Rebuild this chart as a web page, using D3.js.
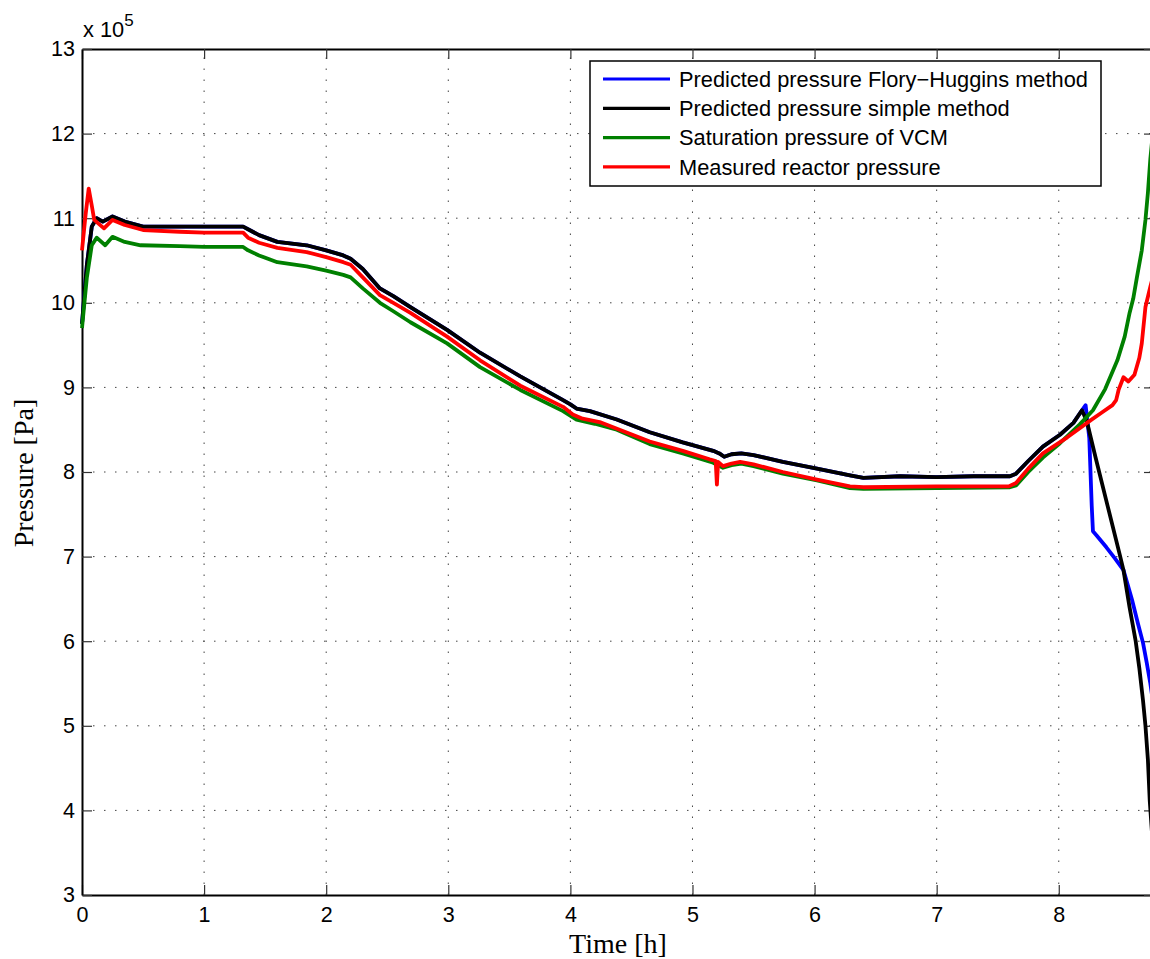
<!DOCTYPE html>
<html>
<head>
<meta charset="utf-8">
<script src="https://cdn.jsdelivr.net/npm/d3@7"></script>
<style>
  body { margin: 0; background: #fff; }
  svg { display: block; }
  .tick text { font-family: "Liberation Sans", Arial, sans-serif; font-size: 21.5px; fill: #000; }
  .axisLabel { font-family: "Liberation Serif", "Times New Roman", serif; font-size: 28px; fill: #000; }
  .legendLabel { font-family: "Liberation Sans", Arial, sans-serif; font-size: 21.8px; fill: #000; }
</style>
</head>
<body>
<div id="chart"></div>
<script>
// pressures are in units of 1e5 Pa, time in hours

// both predicted curves overlap up to about 8.2 h
const predictedShared = [
  [0, 9.75], [0.04, 10.45], [0.08, 10.9], [0.12, 11.0], [0.17, 10.96], [0.25, 11.02],
  [0.35, 10.96], [0.5, 10.9], [0.8, 10.9], [1.0, 10.9], [1.32, 10.9], [1.36, 10.87],
  [1.45, 10.8], [1.6, 10.72], [1.84, 10.68], [2.0, 10.62], [2.14, 10.56], [2.2, 10.52],
  [2.3, 10.4], [2.44, 10.17], [2.55, 10.08], [2.69, 9.95], [2.99, 9.68], [3.26, 9.41],
  [3.59, 9.13], [3.94, 8.85], [4.0, 8.8], [4.05, 8.75], [4.16, 8.72], [4.38, 8.62],
  [4.65, 8.47], [4.92, 8.35], [5.17, 8.25], [5.22, 8.22], [5.26, 8.18], [5.32, 8.21],
  [5.4, 8.22], [5.5, 8.2], [5.74, 8.12], [6.02, 8.04], [6.29, 7.96], [6.4, 7.93],
  [6.7, 7.95], [7.0, 7.94], [7.3, 7.95], [7.6, 7.95], [7.65, 7.98], [7.75, 8.13],
  [7.87, 8.3], [8.01, 8.44], [8.12, 8.58], [8.19, 8.73]
];

const floryTail = [
  [8.22, 8.79], [8.25, 8.4], [8.27, 7.6], [8.28, 7.3], [8.31, 7.25], [8.39, 7.11],
  [8.46, 6.98], [8.53, 6.84], [8.6, 6.49], [8.65, 6.2], [8.69, 5.98], [8.72, 5.75],
  [8.75, 5.5], [8.77, 5.3]
];

const simpleTail = [
  [8.23, 8.6], [8.3, 8.18], [8.4, 7.6], [8.5, 7.02], [8.53, 6.84], [8.58, 6.4],
  [8.63, 6.0], [8.66, 5.68], [8.69, 5.3], [8.71, 5.0], [8.73, 4.6], [8.745, 4.12], [8.77, 3.6]
];

const saturationVCM = [
  [0, 9.7], [0.04, 10.3], [0.08, 10.68], [0.12, 10.77], [0.19, 10.68], [0.25, 10.78],
  [0.35, 10.72], [0.48, 10.68], [0.8, 10.67], [1.0, 10.66], [1.32, 10.66], [1.36, 10.62],
  [1.45, 10.56], [1.6, 10.48], [1.84, 10.43], [2.0, 10.38], [2.14, 10.33], [2.2, 10.3],
  [2.3, 10.17], [2.44, 10.0], [2.55, 9.9], [2.69, 9.77], [2.99, 9.52], [3.26, 9.24],
  [3.59, 8.97], [3.94, 8.72], [4.05, 8.62], [4.2, 8.57], [4.38, 8.5], [4.65, 8.33],
  [4.92, 8.22], [5.17, 8.11], [5.25, 8.05], [5.32, 8.08], [5.4, 8.1], [5.5, 8.07],
  [5.74, 7.98], [6.02, 7.9], [6.29, 7.81], [6.4, 7.8], [7.0, 7.81], [7.6, 7.82],
  [7.65, 7.84], [7.75, 8.0], [7.87, 8.17], [8.01, 8.34], [8.17, 8.56], [8.28, 8.73],
  [8.38, 8.98], [8.48, 9.32], [8.54, 9.6], [8.58, 9.88], [8.61, 10.05], [8.64, 10.3],
  [8.68, 10.62], [8.71, 10.98], [8.73, 11.3], [8.75, 11.7], [8.77, 12.0]
];

const measuredReactor = [
  [0, 10.62], [0.03, 11.05], [0.055, 11.35], [0.08, 11.15], [0.1, 10.98], [0.14, 10.93],
  [0.18, 10.88], [0.25, 10.98], [0.35, 10.92], [0.5, 10.86], [0.8, 10.84], [1.0, 10.83],
  [1.32, 10.83], [1.36, 10.77], [1.45, 10.71], [1.6, 10.65], [1.84, 10.6], [2.0, 10.54],
  [2.14, 10.48], [2.2, 10.45], [2.3, 10.3], [2.44, 10.09], [2.55, 10.0], [2.69, 9.88],
  [2.99, 9.6], [3.26, 9.32], [3.59, 9.02], [3.94, 8.77], [4.02, 8.68], [4.1, 8.63],
  [4.24, 8.59], [4.65, 8.36], [4.92, 8.25], [5.14, 8.15], [5.19, 8.13], [5.2, 7.85],
  [5.21, 8.12], [5.25, 8.07], [5.32, 8.1], [5.39, 8.12], [5.5, 8.09], [5.74, 8.0],
  [6.02, 7.91], [6.29, 7.83], [6.4, 7.82], [7.0, 7.83], [7.59, 7.83], [7.65, 7.87],
  [7.75, 8.04], [7.87, 8.22], [8.07, 8.41], [8.26, 8.61], [8.35, 8.7], [8.44, 8.79],
  [8.47, 8.85], [8.49, 8.97], [8.53, 9.12], [8.57, 9.07], [8.62, 9.15], [8.66, 9.35],
  [8.68, 9.52], [8.71, 9.95], [8.75, 10.19], [8.77, 10.3]
];

const xTicks = [0, 1, 2, 3, 4, 5, 6, 7, 8];
const yTicks = [3, 4, 5, 6, 7, 8, 9, 10, 11, 12, 13];

const legendNames = [
  "Predicted pressure Flory\u2212Huggins method",
  "Predicted pressure simple method",
  "Saturation pressure of VCM",
  "Measured reactor pressure"
];
const legendColors = ["#0000ff", "#000000", "#008000", "#ff0000"];

const width = 1150;
const height = 959;
const margin = { top: 49, left: 82, right: -4, bottom: 64 };

const svg = d3.select("#chart")
  .append("svg")
  .attr("width", width)
  .attr("height", height);

const xScale = d3.scaleLinear()
  .domain([0, 8.78])
  .range([margin.left, width - margin.right]);

const yScale = d3.scaleLinear()
  .domain([3, 13])
  .range([height - margin.bottom, margin.top]);

// dotted grid
svg.append("g")
  .selectAll("line")
  .data(xTicks.slice(1))
  .join("line")
  .attr("x1", d => xScale(d)).attr("x2", d => xScale(d))
  .attr("y1", yScale(3)).attr("y2", yScale(13))
  .attr("stroke", "#444").attr("stroke-width", 1)
  .attr("stroke-dasharray", "1.5,9.5");

svg.append("g")
  .selectAll("line")
  .data(yTicks.slice(1, -1))
  .join("line")
  .attr("x1", xScale(0)).attr("x2", width - margin.right)
  .attr("y1", d => yScale(d)).attr("y2", d => yScale(d))
  .attr("stroke", "#444").attr("stroke-width", 1)
  .attr("stroke-dasharray", "1.5,9.5");

// axes, with inward ticks on all four sides
const xAxis = svg.append("g")
  .attr("transform", `translate(0,${yScale(3)})`)
  .call(d3.axisBottom(xScale).tickValues(xTicks).tickSizeInner(-10).tickSizeOuter(0).tickPadding(12));

const xAxisTop = svg.append("g")
  .attr("transform", `translate(0,${yScale(13)})`)
  .call(d3.axisTop(xScale).tickValues(xTicks).tickSizeInner(-10).tickSizeOuter(0).tickFormat(""));

const yAxis = svg.append("g")
  .attr("transform", `translate(${xScale(0)},0)`)
  .call(d3.axisLeft(yScale).tickValues(yTicks).tickSizeInner(-10).tickSizeOuter(0).tickPadding(7));

const yAxisRight = svg.append("g")
  .attr("transform", `translate(${width - margin.right},0)`)
  .call(d3.axisRight(yScale).tickValues(yTicks).tickSizeInner(-10).tickSizeOuter(0).tickFormat(""));

svg.selectAll(".domain").attr("stroke", "#000").attr("stroke-width", 2);
svg.selectAll(".tick line").attr("stroke", "#333").attr("stroke-width", 1.2);

// the series
const line = d3.line()
  .x(d => xScale(d[0]))
  .y(d => yScale(d[1]));

const series = [
  { data: predictedShared.concat(floryTail), color: legendColors[0] },
  { data: predictedShared.concat(simpleTail), color: legendColors[1] },
  { data: saturationVCM, color: legendColors[2] },
  { data: measuredReactor, color: legendColors[3] }
];

svg.append("g")
  .selectAll("path")
  .data(series)
  .join("path")
  .attr("d", d => line(d.data))
  .attr("fill", "none")
  .attr("stroke", d => d.color)
  .attr("stroke-width", 3.8)
  .attr("stroke-linejoin", "round");

// exponent label
const expo = svg.append("text")
  .attr("class", "legendLabel")
  .attr("x", 83)
  .attr("y", 37)
  .text("x 10");
expo.append("tspan")
  .attr("dy", -11)
  .attr("font-size", "17px")
  .text("5");

// axis labels
svg.append("text")
  .attr("class", "axisLabel")
  .attr("x", 618)
  .attr("y", 953)
  .attr("text-anchor", "middle")
  .text("Time [h]");

svg.append("text")
  .attr("class", "axisLabel")
  .attr("transform", "rotate(-90)")
  .attr("x", -473)
  .attr("y", 33)
  .attr("text-anchor", "middle")
  .text("Pressure [Pa]");

// legend
const legend = svg.append("g").attr("transform", "translate(590,61)");

legend.append("rect")
  .attr("width", 511)
  .attr("height", 125)
  .attr("fill", "#fff")
  .attr("stroke", "#000")
  .attr("stroke-width", 1.5);

legend.selectAll(".legendLine")
  .data(legendNames)
  .join("line")
  .attr("class", "legendLine")
  .attr("x1", 13).attr("x2", 80)
  .attr("y1", (d, i) => 18 + i * 29.3)
  .attr("y2", (d, i) => 18 + i * 29.3)
  .attr("stroke", (d, i) => legendColors[i])
  .attr("stroke-width", 3.2);

legend.selectAll(".legendLabel")
  .data(legendNames)
  .join("text")
  .attr("class", "legendLabel")
  .attr("x", 89)
  .attr("y", (d, i) => 18 + i * 29.3)
  .attr("dy", "0.35em")
  .text(d => d);
</script>
</body>
</html>
